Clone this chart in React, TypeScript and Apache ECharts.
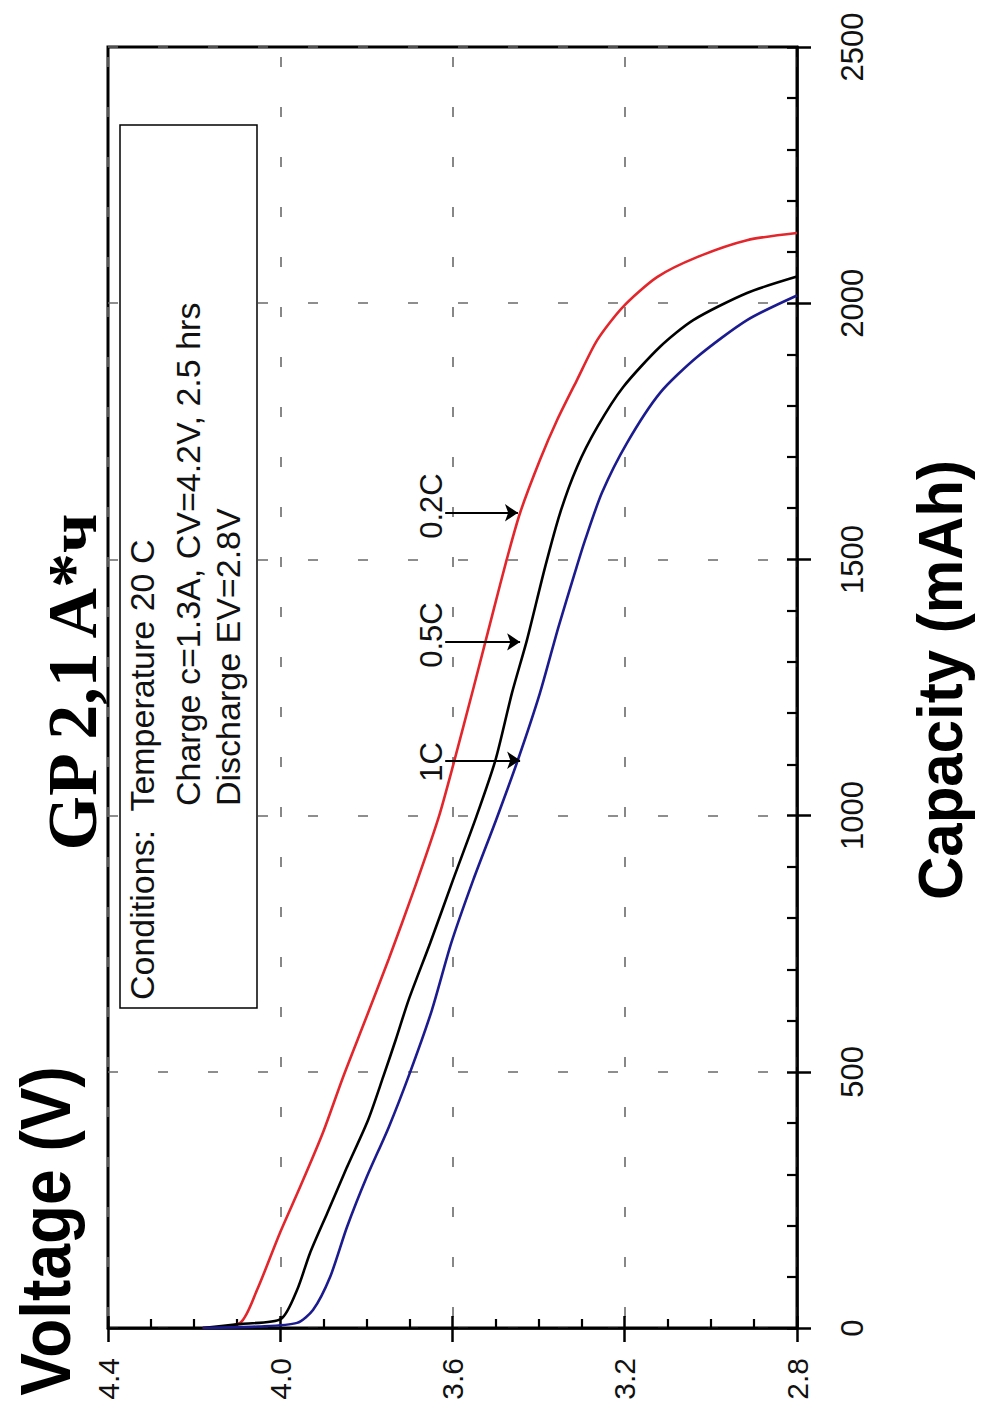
import React, { useEffect, useRef } from "react";
import * as echarts from "echarts";

// Data: [voltage (V), capacity (mAh)]
const voltageMin = 2.8;
const voltageMax = 4.4;
const voltageStep = 0.4;
const capacityMin = 0;
const capacityMax = 2500;
const capacityStep = 500;

const curve02C: [number, number][] = [
  [4.18, 0], [4.093, 10], [4.054, 74], [4.001, 185], [3.954, 275], [3.901, 381],
  [3.854, 490], [3.803, 600], [3.748, 720], [3.687, 861], [3.632, 997], [3.598, 1100],
  [3.551, 1250], [3.505, 1400], [3.474, 1500], [3.443, 1591], [3.397, 1694], [3.357, 1772],
  [3.311, 1850], [3.264, 1928], [3.204, 1993], [3.125, 2051], [3.032, 2090], [2.916, 2123],
  [2.8, 2137],
];

const curve05C: [number, number][] = [
  [4.18, 0], [4.09, 8], [3.998, 18], [3.961, 74], [3.931, 146], [3.891, 224], [3.845, 314],
  [3.796, 406], [3.761, 490], [3.732, 562], [3.702, 640], [3.652, 751], [3.599, 874],
  [3.545, 997], [3.5, 1109], [3.462, 1239], [3.427, 1343], [3.385, 1485], [3.35, 1591],
  [3.311, 1680], [3.264, 1758], [3.204, 1836], [3.118, 1915], [3.041, 1967], [2.916, 2020],
  [2.8, 2052],
];

const curve1C: [number, number][] = [
  [4.18, 0], [4.05, 3], [3.961, 10], [3.924, 35], [3.884, 100], [3.845, 197], [3.799, 295],
  [3.748, 392], [3.699, 498], [3.648, 620], [3.603, 751], [3.552, 874], [3.499, 991],
  [3.448, 1109], [3.397, 1239], [3.354, 1368], [3.314, 1479], [3.292, 1538], [3.253, 1630],
  [3.195, 1727], [3.118, 1825], [3.032, 1895], [2.916, 1967], [2.8, 2015],
];

const seriesNames = ["0.2C", "0.5C", "1C"];
const seriesColors = ["#e3262b", "#000000", "#1b1b8f"];

// arrows: label, voltage at start, voltage at tip, capacity level
const arrowLabels = ["0.2C", "0.5C", "1C"];
const arrowVStart = [3.617, 3.617, 3.617];
const arrowVEnd = [3.448, 3.443, 3.443];
const arrowCapacity = [1591, 1339, 1108];

const titleText = "GP 2,1 A*ч";
const xName = "Voltage (V)";
const yName = "Capacity (mAh)";
const conditionLines = [
  "Conditions:  Temperature 20 C",
  "Charge c=1.3A, CV=4.2V, 2.5 hrs",
  "Discharge EV=2.8V",
];

const SANS = "'Liberation Sans', Arial, Helvetica, sans-serif";
const SERIF = "'Liberation Serif', 'Times New Roman', serif";

export default function App() {
  const ref = useRef<HTMLDivElement>(null);

  useEffect(() => {
    if (!ref.current) return;
    const chart = echarts.init(ref.current, undefined, { renderer: "svg" });

    const curves = [curve02C, curve05C, curve1C];

    const option: any = {
      animation: false,
      backgroundColor: "#ffffff",
      grid: {
        left: 108,
        top: 47,
        width: 689,
        height: 1281,
        show: true,
        borderColor: "#000",
        borderWidth: 3,
        backgroundColor: "transparent",
      },
      xAxis: [
        {
          type: "value",
          position: "bottom",
          min: voltageMin,
          max: voltageMax,
          interval: voltageStep,
          inverse: true,
          axisLine: { show: true, onZero: false, lineStyle: { color: "#000", width: 2.5 } },
          axisTick: { show: true, inside: true, length: 12, lineStyle: { color: "#000", width: 2.5 } },
          minorTick: { show: true, splitNumber: 4, length: 9, lineStyle: { color: "#000", width: 2.2 } },
          axisLabel: {
            rotate: 90,
            margin: 30,
            fontSize: 30,
            fontFamily: SANS,
            color: "#111",
            showMinLabel: true,
            showMaxLabel: true,
            formatter: (v: number) => v.toFixed(1),
          },
          splitLine: {
            show: true,
            lineStyle: { color: "#6a6a6a", width: 1.6, type: [10, 40], dashOffset: 40 },
          },
        },
        {
          type: "value",
          position: "bottom",
          min: voltageMin,
          max: voltageMax,
          interval: voltageStep,
          inverse: true,
          axisLine: { show: false, onZero: false },
          axisTick: { show: true, inside: false, length: 14, lineStyle: { color: "#000", width: 2.5 } },
          axisLabel: { show: false },
          splitLine: { show: false },
        },
      ],
      yAxis: [
        {
          type: "value",
          position: "right",
          min: capacityMin,
          max: capacityMax,
          interval: capacityStep,
          axisLine: { show: true, onZero: false, lineStyle: { color: "#000", width: 2.5 } },
          axisTick: { show: true, inside: true, length: 10, lineStyle: { color: "#000", width: 2.5 } },
          minorTick: { show: true, splitNumber: 5, length: 10, lineStyle: { color: "#000", width: 2.2 } },
          axisLabel: {
            rotate: 90,
            margin: 40,
            fontSize: 31,
            fontFamily: SANS,
            color: "#111",
            showMinLabel: true,
            showMaxLabel: true,
            formatter: (v: number) => String(v),
          },
          splitLine: {
            show: true,
            lineStyle: { color: "#6a6a6a", width: 1.6, type: [10, 40] },
          },
        },
        {
          type: "value",
          position: "right",
          min: capacityMin,
          max: capacityMax,
          interval: capacityStep,
          axisLine: { show: false, onZero: false },
          axisTick: { show: true, inside: false, length: 14, lineStyle: { color: "#000", width: 2.5 } },
          axisLabel: { show: false },
          splitLine: { show: false },
        },
      ],
      series: curves.map((data, i) => ({
        type: "line",
        name: seriesNames[i],
        xAxisIndex: 0,
        yAxisIndex: 0,
        data,
        showSymbol: false,
        symbol: "none",
        smooth: 0.25,
        lineStyle: { color: seriesColors[i], width: 2.6 },
        z: 3,
        markLine:
          i === 0
            ? {
                silent: true,
                symbol: ["none", "arrow"],
                symbolSize: 13,
                label: { show: false },
                lineStyle: { color: "#000", width: 1.8, type: "solid" },
                itemStyle: { color: "#000" },
                data: arrowLabels.map((_, k) => [
                  { coord: [arrowVStart[k], arrowCapacity[k]] },
                  { coord: [arrowVEnd[k], arrowCapacity[k]] },
                ]),
              }
            : undefined,
      })),
      graphic: [
        {
          type: "text",
          x: 72,
          y: 682,
          rotation: Math.PI / 2,
          z: 20,
          style: {
            text: titleText,
            fontSize: 70,
            fontWeight: "bold",
            fontFamily: SERIF,
            fill: "#000",
            align: "center",
            verticalAlign: "middle",
          },
        },
        {
          type: "text",
          x: 45,
          y: 1231,
          rotation: Math.PI / 2,
          scaleY: 1.1,
          z: 20,
          style: {
            text: xName,
            fontSize: 64,
            fontWeight: "bold",
            fontFamily: SANS,
            fill: "#000",
            align: "center",
            verticalAlign: "middle",
          },
        },
        {
          type: "text",
          x: 940,
          y: 680,
          rotation: Math.PI / 2,
          scaleY: 1.05,
          z: 20,
          style: {
            text: yName,
            fontSize: 60,
            fontWeight: "bold",
            fontFamily: SANS,
            fill: "#000",
            align: "center",
            verticalAlign: "middle",
          },
        },
        {
          type: "rect",
          z: 10,
          shape: { x: 120, y: 125, width: 137, height: 883 },
          style: { fill: "#fff", stroke: "#000", lineWidth: 1.5 },
        },
        ...conditionLines.map((t, k) => ({
          type: "text",
          x: [142, 188, 228][k],
          y: [1000, 806, 806][k],
          rotation: Math.PI / 2,
          z: 12,
          style: {
            text: t,
            fontSize: 34,
            fontFamily: SANS,
            fill: "#111",
            align: "left",
            verticalAlign: "middle",
          },
        })),
        ...arrowLabels.map((t, k) => ({
          type: "text",
          x: 431,
          y: [506, 635, 762][k],
          rotation: Math.PI / 2,
          z: 12,
          style: {
            text: t,
            fontSize: 31,
            fontFamily: SANS,
            fill: "#111",
            align: "center",
            verticalAlign: "middle",
          },
        })),
      ],
    };

    chart.setOption(option);
    return () => chart.dispose();
  }, []);

  return (
    <div
      ref={ref}
      style={{ position: "absolute", left: 0, top: 0, width: 981, height: 1414, background: "#fff" }}
    />
  );
}
